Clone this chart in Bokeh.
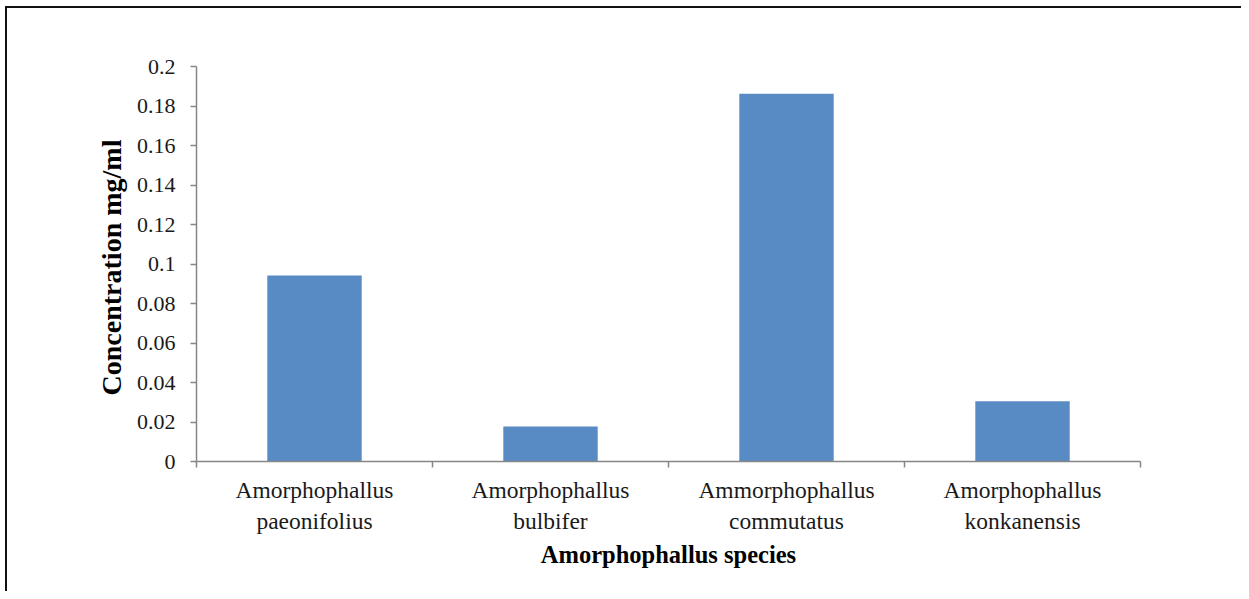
from bokeh.plotting import figure
from bokeh.models import Range1d, FixedTicker
from bokeh.embed import file_html
from bokeh.resources import INLINE

# ---- data ----
categories = [
    "Amorphophallus\npaeonifolius",
    "Amorphophallus\nbulbifer",
    "Ammorphophallus\ncommutatus",
    "Amorphophallus\nkonkanensis",
]
concentration = [0.0942, 0.0177, 0.1862, 0.0305]
y_ticks = [0, 0.02, 0.04, 0.06, 0.08, 0.1, 0.12, 0.14, 0.16, 0.18, 0.2]
y_tick_labels = ["0", "0.02", "0.04", "0.06", "0.08", "0.1", "0.12", "0.14", "0.16", "0.18", "0.2"]
x_title = "Amorphophallus species"
y_title = "Concentration  mg/ml"

FONT = "Liberation Serif"
AXIS_COLOR = "#868686"
TEXT_COLOR = "#1a1a1a"
BAR_COLOR = "#588ac3"

n = len(categories)
centers = [i + 0.5 for i in range(n)]
bounds = [i for i in range(n + 1)]

p = figure(
    width=1236, height=585,
    x_range=Range1d(0, n), y_range=Range1d(0, 0.2),
    output_backend="svg", toolbar_location=None,
    min_border_left=189, min_border_right=103,
    min_border_top=58, min_border_bottom=132,
)
p.styles = {
    "margin-left": "5px",
    "margin-top": "6px",
    "border-left": "2px solid #111111",
    "border-top": "2px solid #111111",
}
p.outline_line_color = None
p.xgrid.grid_line_color = None
p.ygrid.grid_line_color = None

p.vbar(x=centers, top=concentration, width=0.4, color=BAR_COLOR, line_color=None)

# x axis
xa = p.xaxis[0]
xa.ticker = FixedTicker(ticks=centers, minor_ticks=bounds)
xa.major_label_overrides = {c: lab for c, lab in zip(centers, categories)}
xa.major_tick_out = 0
xa.major_tick_in = 0
xa.minor_tick_out = 6
xa.minor_tick_in = 0
xa.minor_tick_line_color = AXIS_COLOR
xa.axis_line_color = AXIS_COLOR
xa.axis_line_width = 1.5
xa.minor_tick_line_width = 1.5
xa.major_label_text_font = FONT
xa.major_label_text_font_size = "23.5px"
xa.major_label_text_color = TEXT_COLOR
xa.major_label_standoff = 9
xa.axis_label = x_title
xa.axis_label_text_font = FONT
xa.axis_label_text_font_size = "24.5px"
xa.axis_label_text_font_style = "bold"
xa.axis_label_text_color = "#000000"
xa.axis_label_standoff = 4

# y axis
ya = p.yaxis[0]
ya.ticker = FixedTicker(ticks=y_ticks, minor_ticks=[])
ya.major_label_overrides = {t: lab for t, lab in zip(y_ticks, y_tick_labels)}
ya.major_tick_out = 6
ya.major_tick_in = 0
ya.major_tick_line_color = AXIS_COLOR
ya.major_tick_line_width = 1.5
ya.axis_line_color = AXIS_COLOR
ya.axis_line_width = 1.5
ya.major_label_text_font = FONT
ya.major_label_text_font_size = "22px"
ya.major_label_text_color = TEXT_COLOR
ya.major_label_standoff = 15
ya.axis_label = y_title
ya.axis_label_text_font = FONT
ya.axis_label_text_font_size = "28px"
ya.axis_label_text_font_style = "bold"
ya.axis_label_text_color = "#000000"
ya.axis_label_standoff = 7

open("out.html", "w").write(file_html(p, INLINE))
